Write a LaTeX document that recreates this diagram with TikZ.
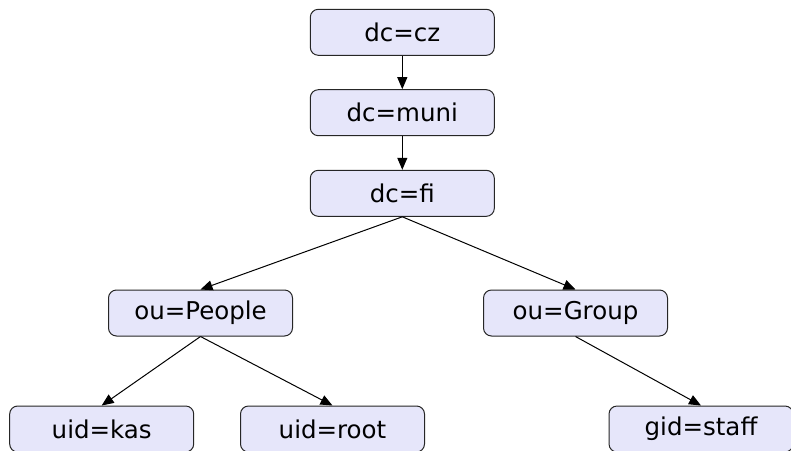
\documentclass[tikz,border=0pt]{standalone}
\usepackage{fontspec}
\setmainfont{DejaVu Sans}
\usepackage{xcolor}
\usetikzlibrary{arrows.meta}

\definecolor{entryfill}{HTML}{E6E6FA}

\tikzset{
  entry/.style={draw=black!85, line width=1pt, fill=entryfill, rounded corners=8pt,
    minimum width=184pt, minimum height=46pt, inner sep=0pt},
  link/.style={line width=1pt, -{Triangle[length=12pt,width=10pt]}}
}

\begin{document}
\begin{tikzpicture}[x=1pt, y=-1pt, font=\fontsize{24.5}{28}\selectfont]
  \useasboundingbox (0,0) rectangle (791,450);

  % domain chain
  \node[entry] (cz)   at (402.3, 32.3)  {dc=cz};
  \node[entry] (muni) at (402.3, 112.7) {dc=muni};
  \node[entry] (fi)   at (402.3, 193.3) {dc=fi};

  % organisational units
  \node[entry] (people) at (200.5, 313) {ou=People};
  \node[entry] (group)  at (575.5, 313) {ou=Group};

  % leaf entries
  \node[entry] (kas)   at (101.7, 429) {uid=kas};
  \node[entry] (root)  at (332.5, 429) {uid=root};
  \node[entry] (staff) at (701.0, 429) {gid=staff};

  % edges
  \draw[link] (cz.south) -- (muni.north);
  \draw[link] (muni.south) -- (fi.north);
  \draw[link] (fi.south) -- (people.north);
  \draw[link] (fi.south) -- (group.north);
  \draw[link] (people.south) -- (kas.north);
  \draw[link] (people.south) -- (root.north);
  \draw[link] (group.south) -- (staff.north);
\end{tikzpicture}
\end{document}
